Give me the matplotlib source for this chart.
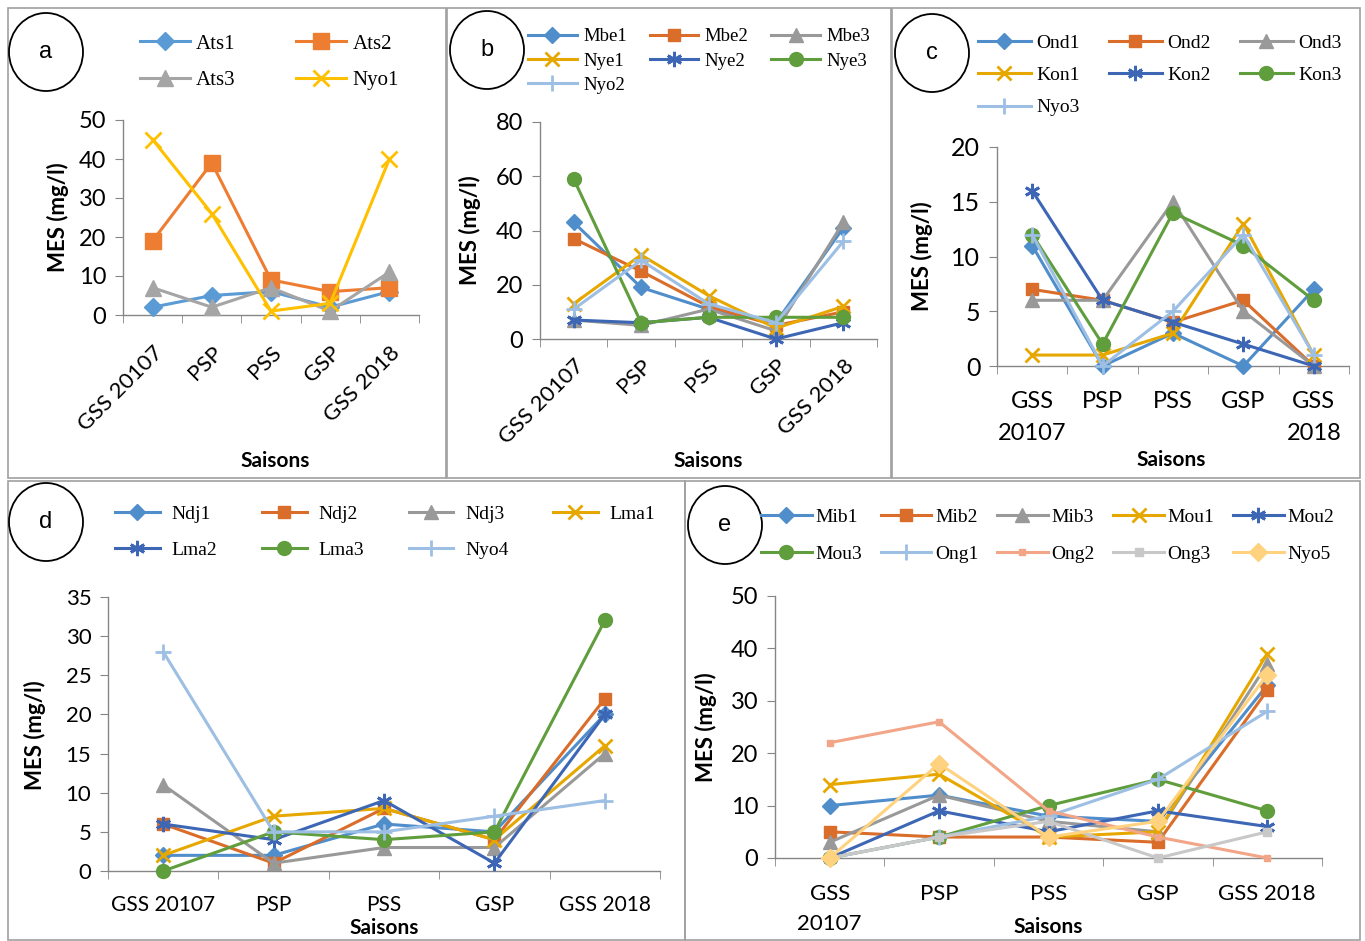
import matplotlib
matplotlib.use("Agg")
import matplotlib.pyplot as plt
from matplotlib.patches import Rectangle, Ellipse

W, H = 1365, 941

# ---------------- data ----------------
cats = ['GSS 20107', 'PSP', 'PSS', 'GSP', 'GSS 2018']
cats_c = ['GSS\n20107', 'PSP', 'PSS', 'GSP', 'GSS\n2018']
cats_e = ['GSS\n20107', 'PSP', 'PSS', 'GSP', 'GSS 2018']

# panel a
a_names = ['Ats1', 'Ats2', 'Ats3', 'Nyo1']
ats1 = [2, 5, 6, 2, 6]
ats2 = [19, 39, 9, 6, 7]
ats3 = [7, 2, 7, 1, 11]
nyo1 = [45, 26, 1, 3, 40]

# panel b
b_names = ['Mbe1', 'Mbe2', 'Mbe3', 'Nye1', 'Nye2', 'Nye3', 'Nyo2']
mbe1 = [43, 19, 11, 6, 41]
mbe2 = [37, 25, 12, 5, 10]
mbe3 = [7, 5, 11, 3, 43]
nye1 = [13, 31, 16, 4, 12]
nye2 = [7, 6, 8, 0, 6]
nye3 = [59, 6, 8, 8, 8]
nyo2 = [11, 29, 13, 6, 36]

# panel c
c_names = ['Ond1', 'Ond2', 'Ond3', 'Kon1', 'Kon2', 'Kon3', 'Nyo3']
ond1 = [11, 0, 3, 0, 7]
ond2 = [7, 6, 4, 6, 0]
ond3 = [6, 6, 15, 5, 0]
kon1 = [1, 1, 3, 13, 1]
kon2 = [16, 6, 4, 2, 0]
kon3 = [12, 2, 14, 11, 6]
nyo3 = [12, 0, 5, 12, 1]

# panel d
d_names = ['Ndj1', 'Ndj2', 'Ndj3', 'Lma1', 'Lma2', 'Lma3', 'Nyo4']
ndj1 = [2, 2, 6, 5, 20]
ndj2 = [6, 1, 8, 4, 22]
ndj3 = [11, 1, 3, 3, 15]
lma1 = [2, 7, 8, 4, 16]
lma2 = [6, 4, 9, 1, 20]
lma3 = [0, 5, 4, 5, 32]
nyo4 = [28, 5, 5, 7, 9]

# panel e
e_names = ['Mib1', 'Mib2', 'Mib3', 'Mou1', 'Mou2', 'Mou3', 'Ong1', 'Ong2', 'Ong3', 'Nyo5']
mib1 = [10, 12, 8, 7, 33]
mib2 = [5, 4, 4, 3, 32]
mib3 = [3, 12, 7, 5, 37]
mou1 = [14, 16, 4, 5, 39]
mou2 = [0, 9, 5, 9, 6]
mou3 = [0, 4, 10, 15, 9]
ong1 = [0, 4, 8, 15, 28]
ong2 = [22, 26, 9, 4, 0]
ong3 = [0, 4, 7, 0, 5]
nyo5 = [0, 18, 4, 7, 35]

# ---------------- styles ----------------
STAR = (6, 2, 0)
light = {'blue': '#5B9BD5', 'orange': '#ED7D31', 'gray': '#A5A5A5', 'yellow': '#FFC000'}
dark = {'blue': '#4F8DCB', 'orange': '#DA6D2A', 'gray': '#999999', 'yellow': '#E6A800',
        'dblue': '#3D67B5', 'green': '#609D3C', 'lblue': '#9DBFE4',
        'salmon': '#F2A587', 'lgray': '#C8C8C8', 'lyellow': '#FFD27F'}

def sty(color, marker, ms, mew=1.0):
    return dict(color=color, marker=marker, ms=ms, mew=mew, mfc=color, mec=color)

std7 = [sty(dark['blue'], 'D', 8), sty(dark['orange'], 's', 9), sty(dark['gray'], '^', 10),
        sty(dark['yellow'], 'x', 10, 2), sty(dark['dblue'], STAR, 11, 2),
        sty(dark['green'], 'o', 10), sty(dark['lblue'], '+', 12, 2)]

AX_COL = '#868686'
TICKFONT = 'Lato'

fig = plt.figure(figsize=(W / 100, H / 100), dpi=100)

def fbox(x0, y0, x1, y1):
    return [x0 / W, 1 - y1 / H, (x1 - x0) / W, (y1 - y0) / H]

# panel borders
for (x0, y0, x1, y1) in [(8, 8, 446, 478), (447, 8, 891, 478), (892, 8, 1360, 478),
                         (8, 481, 685, 940), (685, 481, 1360, 940)]:
    fig.patches.append(Rectangle((x0 / W, 1 - y1 / H), (x1 - x0) / W, (y1 - y0) / H,
                                 transform=fig.transFigure, fill=False,
                                 edgecolor='#A0A0A0', lw=1.2))

def make_ax(box, series, styles, names, ymax, ystep, labels, tfs, rot=False, lsp=1.2, pad=8):
    ax = fig.add_axes(fbox(*box))
    x = list(range(len(labels)))
    for vals, st, nm in zip(series, styles, names):
        ax.plot(x, vals, lw=2.2, clip_on=False, label=nm, zorder=3, **st)
    ax.set_xlim(-0.5, len(labels) - 0.5)
    ax.set_ylim(0, ymax)
    ax.set_yticks(range(0, ymax + 1, ystep))
    for s in ['top', 'right']:
        ax.spines[s].set_visible(False)
    for s in ['left', 'bottom']:
        ax.spines[s].set_color(AX_COL)
        ax.spines[s].set_linewidth(1.0)
    ax.set_xticks(x)
    ax.set_xticks([i - 0.5 for i in range(len(labels) + 1)], minor=True)
    ax.tick_params(axis='x', which='major', length=0, pad=pad)
    ax.tick_params(axis='x', which='minor', length=6, color=AX_COL, direction='out')
    ax.tick_params(axis='y', length=6, color=AX_COL, direction='out', pad=6)
    if rot:
        ax.set_xticklabels(labels, rotation=45, ha='right', va='top',
                           rotation_mode='anchor', fontsize=tfs, family=TICKFONT)
    else:
        ax.set_xticklabels(labels, fontsize=tfs, family=TICKFONT, linespacing=lsp)
    for t in ax.get_yticklabels():
        t.set_fontsize(tfs + 1)
        t.set_family(TICKFONT)
    return ax

def ylabel(x, y, fs=16):
    fig.text(x / W, 1 - y / H, 'MES (mg/l)', rotation=90, ha='center', va='center',
             fontsize=fs, fontweight='bold', family=TICKFONT)

def xlabel(x, y, fs=15):
    fig.text(x / W, 1 - y / H, 'Saisons', ha='center', va='center',
             fontsize=fs, fontweight='bold', family=TICKFONT)

def circle(cx, cy, letter, w=74, h=78):
    fig.patches.append(Ellipse((cx / W, 1 - cy / H), w / W, h / H, transform=fig.transFigure,
                               fill=False, edgecolor='black', lw=1.3))
    fig.text(cx / W, 1 - cy / H, letter, ha='center', va='center', fontsize=17,
             family='Liberation Sans')

def legend(ax, x, y, ncol, fs, hl, htp, cs, ls):
    h, l = ax.get_legend_handles_labels()
    # row-major ordering (as in the original) for matplotlib's column filling
    h = [hh for c in range(ncol) for hh in h[c::ncol]]
    l = [ll for c in range(ncol) for ll in l[c::ncol]]
    fig.legend(h, l, loc='upper left', bbox_to_anchor=(x / W, 1 - y / H), ncol=ncol,
               frameon=False, prop={'family': 'Liberation Serif', 'size': fs},
               handlelength=hl, handletextpad=htp, columnspacing=cs, labelspacing=ls,
               borderpad=0, borderaxespad=0, numpoints=1)

# ---- panel a
sty_a = [sty(light['blue'], 'D', 9), sty(light['orange'], 's', 11),
         sty(light['gray'], '^', 11), sty(light['yellow'], 'x', 11, 2)]
axa = make_ax((123, 120, 419, 315), [ats1, ats2, ats3, nyo1], sty_a, a_names, 50, 10, cats, 16,
              rot=True, pad=20)
ylabel(58, 217)
xlabel(275, 461)
circle(46, 52, 'a')
legend(axa, 140, 34, 2, 15, 2.4, 0.3, 2.9, 0.8)

# ---- panel b
axb = make_ax((540, 122, 877, 339), [mbe1, mbe2, mbe3, nye1, nye2, nye3, nyo2], std7, b_names,
              80, 20, cats, 16, rot=True, pad=12)
ylabel(470, 230)
xlabel(708, 461)
circle(487, 50, 'b')
legend(axb, 528, 28, 3, 13.5, 2.6, 0.35, 1.2, 0.39)

# ---- panel c
axc = make_ax((997, 147, 1349, 366), [ond1, ond2, ond3, kon1, kon2, kon3, nyo3], std7, c_names,
              20, 5, cats_c, 17, lsp=1.65, pad=18)
ylabel(922, 256)
xlabel(1171, 460)
circle(932, 53, 'c')
legend(axc, 978, 34, 3, 14, 2.7, 0.3, 1.5, 0.76)

# ---- panel d
axd = make_ax((108, 597, 660, 871), [ndj1, ndj2, ndj3, lma1, lma2, lma3, nyo4], std7, d_names,
              35, 5, cats, 15, pad=17)
ylabel(35, 735)
xlabel(384, 928)
circle(46, 522, 'd')
legend(axd, 115, 505, 4, 14, 2.3, 0.6, 2.3, 0.96)

# ---- panel e
std10 = std7 + [sty(dark['salmon'], 's', 5), sty(dark['lgray'], 's', 6), sty(dark['lyellow'], 'D', 9)]
axe = make_ax((775, 596, 1322, 858), [mib1, mib2, mib3, mou1, mou2, mou3, ong1, ong2, ong3, nyo5],
              std10, e_names, 50, 10, cats_e, 16, lsp=1.6, pad=19)
ylabel(706, 727)
xlabel(1048, 927)
circle(725, 525, 'e')
legend(axe, 761, 508, 5, 14, 2.6, 0.2, 0.95, 1.0)

fig.savefig('out.png', dpi=100)
